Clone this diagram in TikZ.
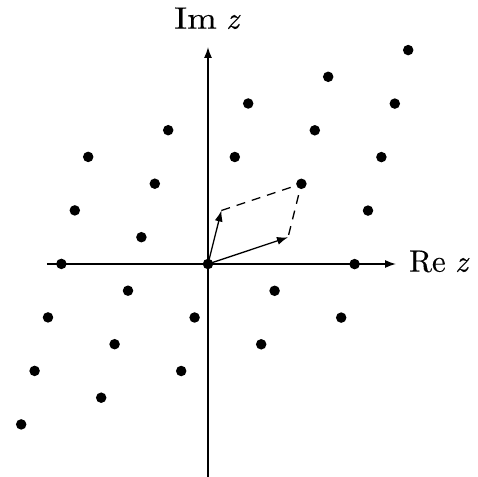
\documentclass[tikz,border=0pt]{standalone}
\usepackage{fontspec}
\setmainfont{lmroman10-regular.otf}[ItalicFont=lmroman10-italic.otf]
\usetikzlibrary{arrows.meta}
\begin{document}
\begin{tikzpicture}[x=1bp,y=1bp,
  axis/.style={line width=1.3bp,-{Latex[length=11bp,width=8bp]}},
  vec/.style={line width=1.3bp,-{Latex[length=11bp,width=8bp]}},
  dashedge/.style={line width=1.3bp,dash pattern=on 9bp off 7bp},
  dot/.style={circle,fill=black,inner sep=0pt,minimum size=10.5bp},
  lbl/.style={font=\fontsize{31bp}{33bp}\selectfont\addfontfeatures{FakeBold=0.25},inner sep=0pt}]
\useasboundingbox (-208,-213) rectangle (269,264);
\coordinate (O) at (0,0);
\coordinate (xl) at (-161,0);
\coordinate (xr) at (188,0);
\coordinate (yb) at (0,-213);
\coordinate (yt) at (0,217);
\coordinate (w1) at (80,26.7);
\coordinate (w2) at (13.4,53.5);
\coordinate (s) at (93.4,80.2);
\draw[axis] (xl) -- (xr);
\draw[axis] (yb) -- (yt);
\node[lbl,anchor=base west] (re) at (201,-7.7) {Re\hspace{0.3em}\textit{z}};
\node[lbl,anchor=base] (im) at (-0.6,235.3) {\scalebox{1.15}[1]{Im}\hspace{0.3em}\textit{z}};
\draw[vec] (O) -- (w1);
\draw[vec] (O) -- (w2);
\draw[dashedge] (w2) -- (s) -- (w1);
\foreach \m in {-2,...,2}{%
  \foreach \k in {-2,...,3}{%
    \pgfmathtruncatemacro{\code}{\m*10+\k}%
    \pgfmathtruncatemacro{\mi}{\m+3}%
    \pgfmathtruncatemacro{\ki}{\k+3}%
    \ifnum\code=10 \else\ifnum\code=1 \else
      \node[dot] (p\mi\ki) at (\m*80+\k*13.4, \m*26.7+\k*53.5) {};
    \fi\fi
  }%
}
\end{tikzpicture}
\end{document}
